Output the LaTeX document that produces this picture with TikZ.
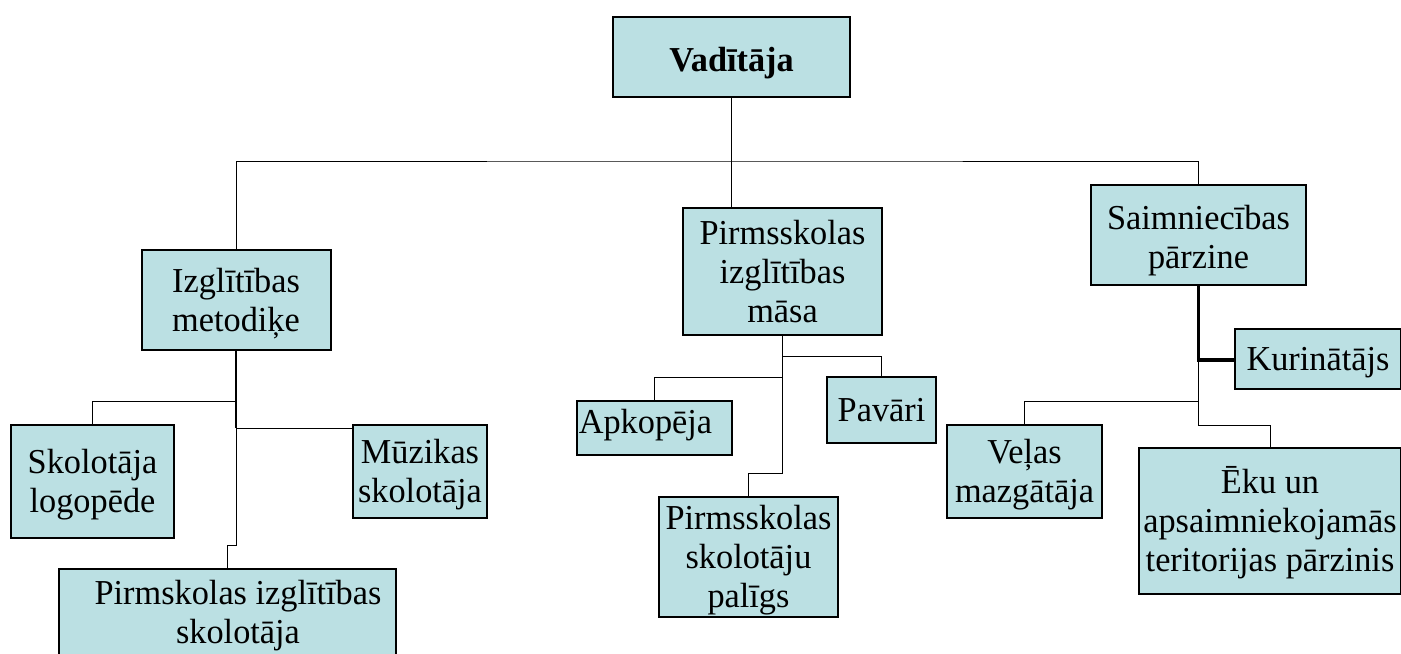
\documentclass[tikz,border=0pt]{standalone}
\usepackage{fontspec}
\setmainfont{Liberation Serif}[FakeStretch=0.98]
\definecolor{boxfill}{RGB}{187,224,227}
\newcommand{\mystrut}{\rule[-3.8pt]{0pt}{19.4pt}}
\tikzset{
  box/.style={draw=black, fill=boxfill, line width=1pt, inner sep=0pt, align=center,
    font=\fontsize{17.5}{19.5}\selectfont},
  conn/.style={line width=0.5pt},
  midconn/.style={line width=1pt},
  thickconn/.style={line width=1.6pt}
}
\begin{document}
\begin{tikzpicture}[x=0.5pt,y=-0.5pt]
\useasboundingbox (0,0) rectangle (1401,653);
% boxes
\node[box, minimum width=118.5pt, minimum height=40pt] (vad) at (731.5,57) {\rule[-3.8pt]{0pt}{22.4pt}\textbf{Vadītāja}};
\node[box, minimum width=94.5pt, minimum height=50pt] (izm) at (236,300) {\mystrut Izglītības\\\mystrut metodiķe};
\node[box, minimum width=99.5pt, minimum height=63.5pt] (pim) at (782.5,271.5) {\mystrut Pirmsskolas\\\mystrut izglītības\\\mystrut māsa};
\node[box, minimum width=107.5pt, minimum height=50pt] (sai) at (1198.5,235) {\rule[-3.8pt]{0pt}{21.4pt}Saimniecības\\\mystrut pārzine};
\node[box, minimum width=83pt, minimum height=30pt] (kur) at (1318,359) {\mystrut Kurinātājs};
\node[box, minimum width=77.5pt, minimum height=46.5pt] (vel) at (1024.5,471.5) {\mystrut Veļas\\\mystrut mazgātāja};
\node[box, minimum width=131pt, minimum height=73pt] (eku) at (1270,521) {\mystrut Ēku un\\\mystrut apsaimniekojamās\\\mystrut teritorijas pārzinis};
\node[box, minimum width=81.5pt, minimum height=56.5pt] (sko) at (92.5,481.5) {\mystrut Skolotāja\\\mystrut logopēde};
\node[box, minimum width=67pt, minimum height=46.5pt] (muz) at (420,471.5) {\mystrut Mūzikas\\\mystrut skolotāja};
\node[box, minimum width=168.5pt, minimum height=43pt] (pis) at (227.5,612) {\mystrut\hspace*{10.5pt}Pirmskolas izglītības\\\mystrut\hspace*{10.5pt}skolotāja};
\node[box, minimum width=77.5pt, minimum height=27pt] (apk) at (654.5,428) {\rule[-10.6pt]{0pt}{26.2pt}Apkopēja\hspace*{9pt}};
\node[box, minimum width=54.5pt, minimum height=33pt] (pav) at (881.5,410) {\mystrut Pavāri};
\node[box, minimum width=89.5pt, minimum height=60pt] (pal) at (748.5,557) {\mystrut Pirmsskolas\\\mystrut skolotāju\\\mystrut palīgs};
% junction coordinates
\coordinate (bus) at (732,161);
\coordinate (ja) at (236,401);
\coordinate (jb) at (236,428);
\coordinate (jc) at (236,545);
\coordinate (pa) at (782.5,356);
\coordinate (pb) at (782.5,377);
\coordinate (pc) at (782.5,473);
\coordinate (sa) at (1198.5,360);
\coordinate (sb) at (1198.5,401);
\coordinate (sc) at (1198.5,425);
% top level
\draw[conn] (vad.south) -- (vad.south |- pim.north);
\draw[conn] (izm.north) |- (bus) -| (sai.north);
% Izglitibas metodike
\draw[midconn] (izm.south) -- (jb);
\draw[conn] (jb) -- (jc) -| (pis.north);
\draw[conn] (sko.north) |- (ja);
\draw[conn] (jb) -- (jb -| muz.west);
% Pirmsskolas izglitibas masa
\draw[conn] (pim.south) -- (pc) -| (pal.north);
\draw[conn] (pa) -| (pav.north);
\draw[conn] (pb) -| (apk.north);
% Saimniecibas parzine
\draw[thickconn] (sai.south) -- (sa) -- (sa -| kur.west);
\draw[conn] (sa) -- (sc) -| (eku.north);
\draw[conn] (sb) -| (vel.north);
\end{tikzpicture}
\end{document}
